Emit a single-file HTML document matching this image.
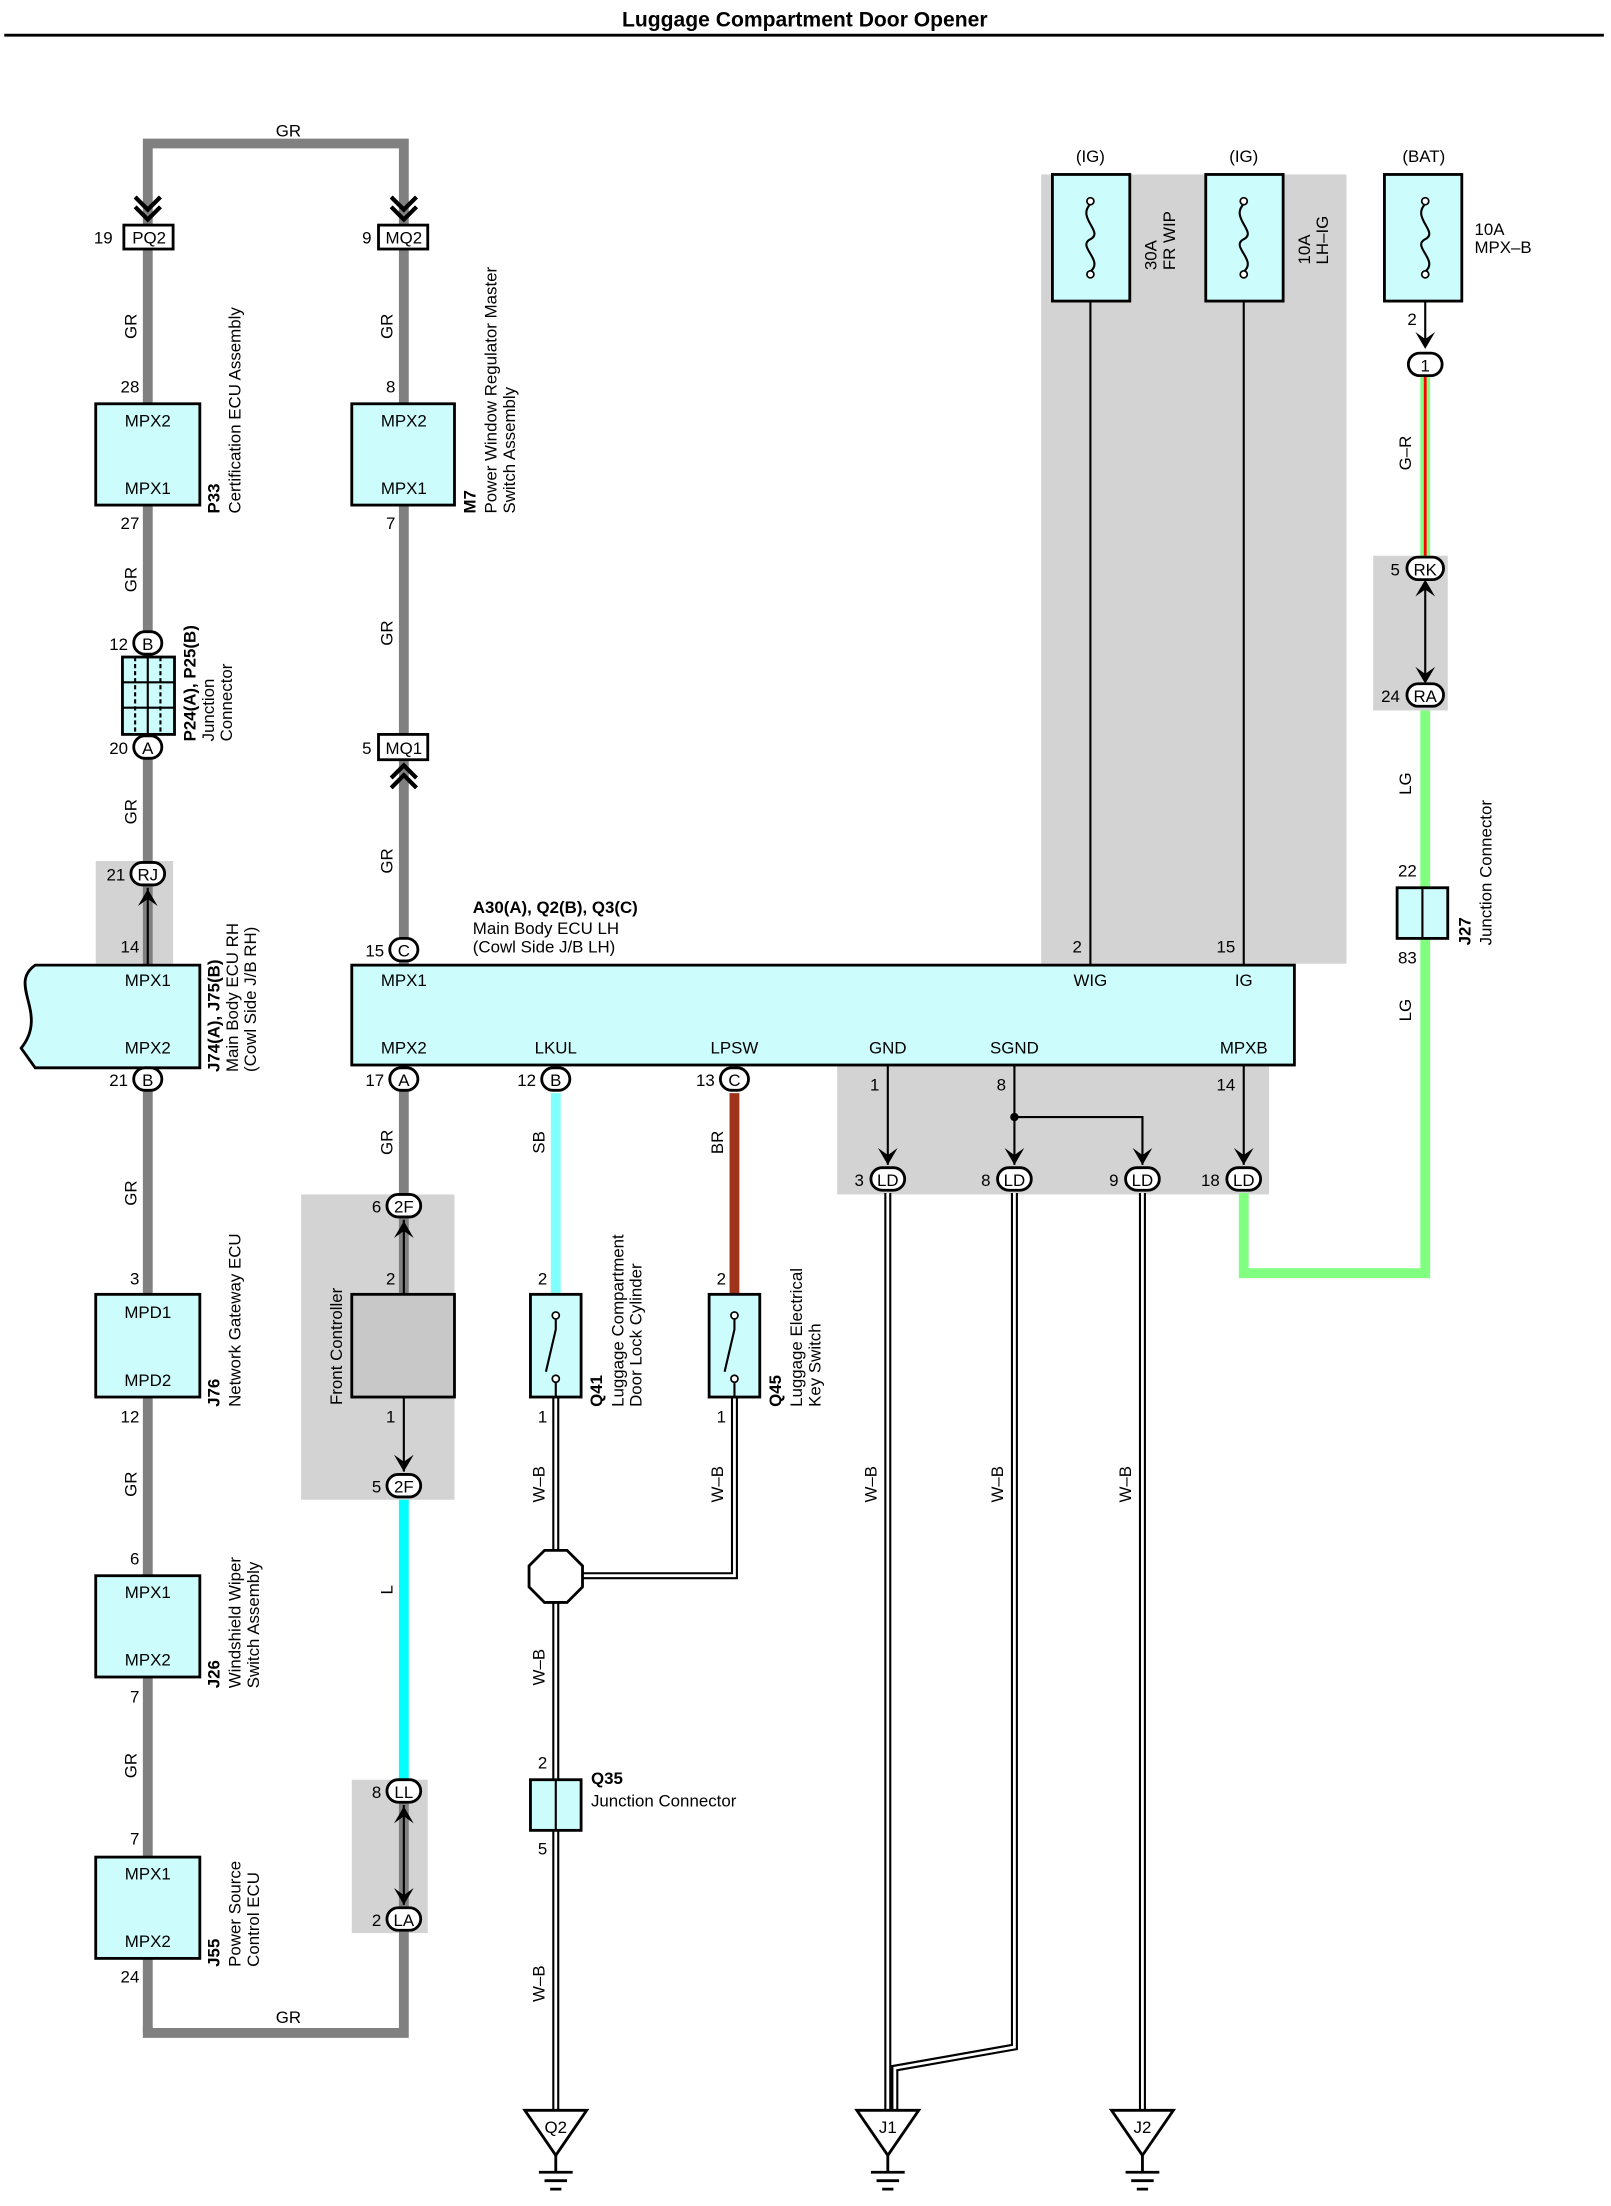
<!DOCTYPE html>
<html><head><meta charset="utf-8"><style>
html,body{margin:0;padding:0;background:#fff;}
svg{display:block;}
text{font-family:"Liberation Sans",sans-serif;font-size:12px;fill:#000;}
.b{font-weight:bold;}
</style></head><body>
<svg width="1611" height="2206" viewBox="0 0 1145 1568" xmlns="http://www.w3.org/2000/svg">
<text x="572" y="19" text-anchor="middle" class="b" style="font-size:15px">Luggage Compartment Door Opener</text>
<line x1="3" y1="25" x2="1140" y2="25" stroke="#000" stroke-width="2"/>

<g fill="#d3d3d3">
<rect x="740" y="124" width="217" height="561"/>
<rect x="976" y="395" width="53" height="110"/>
<rect x="68" y="612" width="55" height="73"/>
<rect x="214" y="849" width="109" height="217"/>
<rect x="250" y="1265" width="54" height="109"/>
<rect x="595" y="757" width="307" height="92"/>
</g>

<g stroke="#808080" stroke-width="7" fill="none">
<path d="M105,160 V102 H287 V160"/>
<line x1="105" y1="177" x2="105" y2="287"/>
<line x1="105" y1="359" x2="105" y2="686"/>
<line x1="105" y1="759" x2="105" y2="1445"/>
<line x1="287" y1="177" x2="287" y2="287"/>
<line x1="287" y1="359" x2="287" y2="686"/>
<line x1="287" y1="757" x2="287" y2="920"/>
<path d="M105,1440 V1445 H287 V1265"/>
</g>
<line x1="287" y1="1066" x2="287" y2="1265" stroke="#00ffff" stroke-width="7"/>
<line x1="395" y1="777" x2="395" y2="920" stroke="#80ffff" stroke-width="7"/>
<line x1="522" y1="777" x2="522" y2="920" stroke="#a0341a" stroke-width="7"/>
<path d="M884,848 V905 H1013 V505" stroke="#80ff80" stroke-width="7" fill="none"/>
<line x1="1013" y1="268" x2="1013" y2="395" stroke="#80ff80" stroke-width="7"/>
<line x1="1013" y1="268" x2="1013" y2="395" stroke="#ff0000" stroke-width="2"/>
<g fill="none">
<g stroke="#000" stroke-width="5">
<path d="M395,993 V1265 M395,1301 V1500 M522,993 V1120 H413 M631,848 V1500 M721,848 V1455 L636,1470 V1500 M812,848 V1500"/>
</g>
<g stroke="#fff" stroke-width="2">
<path d="M395,993 V1265 M395,1301 V1500 M522,993 V1120 H413 M631,848 V1500 M721,848 V1455 L636,1470 V1500 M812,848 V1500"/>
</g>
</g>
<g stroke="#000" stroke-width="1.5" fill="none">
<line x1="775" y1="170" x2="775" y2="686"/>
<line x1="884" y1="170" x2="884" y2="686"/>
<line x1="1013" y1="170" x2="1013" y2="244"/>
<line x1="1013" y1="414" x2="1013" y2="484"/>
<line x1="287" y1="867" x2="287" y2="920"/>
<line x1="287" y1="993" x2="287" y2="1046"/>
<line x1="287" y1="1283" x2="287" y2="1354"/>
<line x1="105" y1="631" x2="105" y2="686"/>
<line x1="631" y1="757" x2="631" y2="828"/>
<path d="M721,757 V828 M721,794 H812 V828"/>
<line x1="884" y1="757" x2="884" y2="828"/>
</g>
<circle cx="721" cy="794" r="3" fill="#000"/>
<g fill="#000">
<path d="M1006,236 L1013,248 L1020,236 L1013,241Z"/>
<path d="M1006,424 L1013,412 L1020,424 L1013,419Z"/>
<path d="M1006,474 L1013,486 L1020,474 L1013,479Z"/>
<path d="M98,644 L105,632 L112,644 L105,639Z"/>
<path d="M280,880 L287,868 L294,880 L287,875Z"/>
<path d="M280,1034 L287,1046 L294,1034 L287,1039Z"/>
<path d="M280,1296 L287,1284 L294,1296 L287,1291Z"/>
<path d="M280,1342 L287,1354 L294,1342 L287,1347Z"/>
<path d="M624,816 L631,828 L638,816 L631,821Z"/>
<path d="M714,816 L721,828 L728,816 L721,821Z"/>
<path d="M805,816 L812,828 L819,816 L812,821Z"/>
<path d="M877,816 L884,828 L891,816 L884,821Z"/>
</g>
<g stroke="#000" stroke-width="3" fill="none">
<path d="M96,140 L105,149 L114,140 M96,147 L105,156 L114,147"/>
<path d="M278,140 L287,149 L296,140 M278,147 L287,156 L296,147"/>
<path d="M278,553 L287,544 L296,553 M278,560 L287,551 L296,560"/>
</g>
<g fill="#fff" stroke="#000" stroke-width="2">
<rect x="88" y="160" width="35" height="17"/>
<rect x="269" y="160" width="35" height="17"/>
<rect x="269" y="522" width="35" height="18"/>
</g>
<text x="106" y="173" text-anchor="middle">PQ2</text><text x="80" y="173" text-anchor="end">19</text>
<text x="287" y="173" text-anchor="middle">MQ2</text><text x="264" y="173" text-anchor="end">9</text>
<text x="287" y="536" text-anchor="middle">MQ1</text><text x="264" y="536" text-anchor="end">5</text>

<g fill="#ccfcfc" stroke="#000" stroke-width="2">
<rect x="68" y="287" width="74" height="72"/>
<rect x="250" y="287" width="73" height="72"/>
<path d="M142,686 H25 C5,700 35,720 15,745 L25,759 H142 Z"/>
<rect x="68" y="920" width="74" height="73"/>
<rect x="68" y="1120" width="74" height="72"/>
<rect x="68" y="1320" width="74" height="72"/>
<rect x="250" y="686" width="670" height="71"/>
<rect x="87" y="467" width="37" height="55"/>
<rect x="377" y="920" width="36" height="73"/>
<rect x="504" y="920" width="36" height="73"/>
<rect x="377" y="1265" width="36" height="36"/>
<rect x="993" y="631" width="36" height="36"/>
<rect x="748" y="124" width="55" height="90"/>
<rect x="857" y="124" width="55" height="90"/>
<rect x="984" y="124" width="55" height="90"/>
</g>
<rect x="250" y="920" width="73" height="73" fill="#c8c8c8" stroke="#000" stroke-width="2"/>
<g stroke="#000" stroke-width="1.5" fill="none">
<path d="M105,467 V522 M87,485 H124 M87,503 H124" />
<path d="M96,467 V522 M114,467 V522" stroke-dasharray="3,2"/>
<line x1="395" y1="1265" x2="395" y2="1301"/>
<line x1="1011" y1="631" x2="1011" y2="667"/>
<path d="M775,145 C765,155 785,165 775,170 C765,175 785,185 775,193"/>
<path d="M884,145 C874,155 894,165 884,170 C874,175 894,185 884,193"/>
<path d="M1013,145 C1003,155 1023,165 1013,170 C1003,175 1023,185 1013,193"/>
<path d="M395,934 V945 L388,975 M395,978 V993"/>
<path d="M522,934 V945 L515,975 M522,978 V993"/>
</g>
<g fill="#fff" stroke="#000" stroke-width="1.2">
<circle cx="395" cy="935" r="2.5"/><circle cx="395" cy="980" r="2.5"/>
<circle cx="522" cy="935" r="2.5"/><circle cx="522" cy="980" r="2.5"/>
<circle cx="775" cy="143" r="2.5"/><circle cx="775" cy="195" r="2.5"/>
<circle cx="884" cy="143" r="2.5"/><circle cx="884" cy="195" r="2.5"/>
<circle cx="1013" cy="143" r="2.5"/><circle cx="1013" cy="195" r="2.5"/>
</g>
<polygon points="387,1102 403,1102 414,1113 414,1128 403,1139 387,1139 376,1128 376,1113" fill="#fff" stroke="#000" stroke-width="2"/>

<g fill="#fff" stroke="#000" stroke-width="2">
<rect x="95" y="449" width="20" height="16" rx="8"/>
<rect x="95" y="523" width="20" height="16" rx="8"/>
<rect x="93" y="613" width="24" height="16" rx="8"/>
<rect x="95" y="759" width="20" height="16" rx="8"/>
<rect x="277" y="667" width="20" height="16" rx="8"/>
<rect x="277" y="759" width="20" height="16" rx="8"/>
<rect x="385" y="759" width="20" height="16" rx="8"/>
<rect x="512" y="759" width="20" height="16" rx="8"/>
<rect x="275" y="849" width="24" height="16" rx="8"/>
<rect x="275" y="1048" width="24" height="16" rx="8"/>
<rect x="275" y="1265" width="24" height="16" rx="8"/>
<rect x="275" y="1356" width="24" height="16" rx="8"/>
<rect x="619" y="830" width="24" height="16" rx="8"/>
<rect x="709" y="830" width="24" height="16" rx="8"/>
<rect x="800" y="830" width="24" height="16" rx="8"/>
<rect x="872" y="830" width="24" height="16" rx="8"/>
<rect x="1001" y="251" width="24" height="16" rx="8"/>
<rect x="1000" y="396" width="26" height="16" rx="8"/>
<rect x="1000" y="486" width="26" height="16" rx="8"/>
</g>
<g text-anchor="middle">
<text x="105" y="462">B</text><text x="105" y="536">A</text><text x="105" y="626">RJ</text>
<text x="105" y="772">B</text><text x="287" y="680">C</text><text x="287" y="772">A</text>
<text x="395" y="772">B</text><text x="522" y="772">C</text>
<text x="287" y="862">2F</text><text x="287" y="1061">2F</text>
<text x="287" y="1278">LL</text><text x="287" y="1369">LA</text>
<text x="631" y="843">LD</text><text x="721" y="843">LD</text><text x="812" y="843">LD</text><text x="884" y="843">LD</text>
<text x="1013" y="264">1</text><text x="1013" y="409">RK</text><text x="1013" y="499">RA</text>
</g>
<g text-anchor="end">
<text x="91" y="462">12</text><text x="91" y="536">20</text><text x="89" y="626">21</text>
<text x="99" y="677">14</text><text x="91" y="772">21</text>
<text x="99" y="279">28</text><text x="99" y="376">27</text>
<text x="99" y="913">3</text><text x="99" y="1011">12</text>
<text x="99" y="1112">6</text><text x="99" y="1210">7</text>
<text x="99" y="1311">7</text><text x="99" y="1409">24</text>
<text x="281" y="279">8</text><text x="281" y="376">7</text>
<text x="273" y="680">15</text><text x="273" y="772">17</text>
<text x="271" y="862">6</text><text x="281" y="913">2</text><text x="281" y="1011">1</text>
<text x="271" y="1061">5</text><text x="271" y="1278">8</text><text x="271" y="1369">2</text>
<text x="381" y="772">12</text><text x="508" y="772">13</text>
<text x="389" y="913">2</text><text x="389" y="1011">1</text>
<text x="516" y="913">2</text><text x="516" y="1011">1</text>
<text x="389" y="1257">2</text><text x="389" y="1318">5</text>
<text x="625" y="775">1</text><text x="715" y="775">8</text><text x="878" y="775">14</text>
<text x="614" y="843">3</text><text x="704" y="843">8</text><text x="795" y="843">9</text><text x="867" y="843">18</text>
<text x="769" y="677">2</text><text x="878" y="677">15</text>
<text x="1007" y="231">2</text><text x="995" y="409">5</text><text x="995" y="499">24</text>
<text x="1007" y="623">22</text><text x="1007" y="685">83</text>
</g>
<g text-anchor="middle">
<text x="105" y="303">MPX2</text><text x="105" y="351">MPX1</text>
<text x="287" y="303">MPX2</text><text x="287" y="351">MPX1</text>
<text x="105" y="701">MPX1</text><text x="105" y="749">MPX2</text>
<text x="105" y="937">MPD1</text><text x="105" y="985">MPD2</text>
<text x="105" y="1136">MPX1</text><text x="105" y="1184">MPX2</text>
<text x="105" y="1336">MPX1</text><text x="105" y="1384">MPX2</text>
<text x="287" y="701">MPX1</text><text x="775" y="701">WIG</text><text x="884" y="701">IG</text>
<text x="287" y="749">MPX2</text><text x="395" y="749">LKUL</text><text x="522" y="749">LPSW</text>
<text x="631" y="749">GND</text><text x="721" y="749">SGND</text><text x="884" y="749">MPXB</text>
<text x="205" y="97">GR</text><text x="205" y="1438">GR</text>
<text x="775" y="115">(IG)</text><text x="884" y="115">(IG)</text><text x="1012" y="115">(BAT)</text>
</g>
<text x="336" y="649" class="b">A30(A), Q2(B), Q3(C)</text>
<text x="336" y="664">Main Body ECU LH</text>
<text x="336" y="677">(Cowl Side J/B LH)</text>
<text x="1048" y="167">10A</text><text x="1048" y="180">MPX–B</text>
<text x="420" y="1268" class="b">Q35</text><text x="420" y="1284">Junction Connector</text>

<g>
<g transform="translate(97,232) rotate(-90)"><text text-anchor="middle">GR</text></g>
<g transform="translate(97,412) rotate(-90)"><text text-anchor="middle">GR</text></g>
<g transform="translate(97,577) rotate(-90)"><text text-anchor="middle">GR</text></g>
<g transform="translate(97,848) rotate(-90)"><text text-anchor="middle">GR</text></g>
<g transform="translate(97,1055) rotate(-90)"><text text-anchor="middle">GR</text></g>
<g transform="translate(97,1255) rotate(-90)"><text text-anchor="middle">GR</text></g>
<g transform="translate(279,232) rotate(-90)"><text text-anchor="middle">GR</text></g>
<g transform="translate(279,450) rotate(-90)"><text text-anchor="middle">GR</text></g>
<g transform="translate(279,612) rotate(-90)"><text text-anchor="middle">GR</text></g>
<g transform="translate(279,812) rotate(-90)"><text text-anchor="middle">GR</text></g>
<g transform="translate(279,1130) rotate(-90)"><text text-anchor="middle">L</text></g>
<g transform="translate(387,812) rotate(-90)"><text text-anchor="middle">SB</text></g>
<g transform="translate(514,812) rotate(-90)"><text text-anchor="middle">BR</text></g>
<g transform="translate(387,1055) rotate(-90)"><text text-anchor="middle">W–B</text></g>
<g transform="translate(514,1055) rotate(-90)"><text text-anchor="middle">W–B</text></g>
<g transform="translate(387,1185) rotate(-90)"><text text-anchor="middle">W–B</text></g>
<g transform="translate(387,1410) rotate(-90)"><text text-anchor="middle">W–B</text></g>
<g transform="translate(623,1055) rotate(-90)"><text text-anchor="middle">W–B</text></g>
<g transform="translate(713,1055) rotate(-90)"><text text-anchor="middle">W–B</text></g>
<g transform="translate(804,1055) rotate(-90)"><text text-anchor="middle">W–B</text></g>
<g transform="translate(1003,322) rotate(-90)"><text text-anchor="middle">G–R</text></g>
<g transform="translate(1003,557) rotate(-90)"><text text-anchor="middle">LG</text></g>
<g transform="translate(1003,718) rotate(-90)"><text text-anchor="middle">LG</text></g>
<g transform="translate(243,957) rotate(-90)"><text text-anchor="middle">Front Controller</text></g>
<g transform="translate(156,365) rotate(-90)"><text class="b">P33</text><text y="15">Certification ECU Assembly</text></g>
<g transform="translate(338,365) rotate(-90)"><text class="b">M7</text><text y="15">Power Window Regulator Master</text><text y="28">Switch Assembly</text></g>
<g transform="translate(139,527) rotate(-90)"><text class="b">P24(A), P25(B)</text><text y="13">Junction</text><text y="26">Connector</text></g>
<g transform="translate(156,762) rotate(-90)"><text class="b">J74(A), J75(B)</text><text y="13">Main Body ECU RH</text><text y="26">(Cowl Side J/B RH)</text></g>
<g transform="translate(156,1000) rotate(-90)"><text class="b">J76</text><text y="15">Network Gateway ECU</text></g>
<g transform="translate(156,1200) rotate(-90)"><text class="b">J26</text><text y="15">Windshield Wiper</text><text y="28">Switch Assembly</text></g>
<g transform="translate(156,1398) rotate(-90)"><text class="b">J55</text><text y="15">Power Source</text><text y="28">Control ECU</text></g>
<g transform="translate(428,1000) rotate(-90)"><text class="b">Q41</text><text y="15">Luggage Compartment</text><text y="28">Door Lock Cylinder</text></g>
<g transform="translate(555,1000) rotate(-90)"><text class="b">Q45</text><text y="15">Luggage Electrical</text><text y="28">Key Switch</text></g>
<g transform="translate(1045,672) rotate(-90)"><text class="b">J27</text><text y="15">Junction Connector</text></g>
<g transform="translate(822,192) rotate(-90)"><text>30A</text><text y="13">FR WIP</text></g>
<g transform="translate(931,188) rotate(-90)"><text>10A</text><text y="13">LH–IG</text></g>
</g>

<g fill="#fff" stroke="#000" stroke-width="2">
<polygon points="373,1500 417,1500 395,1532"/>
<polygon points="609,1500 653,1500 631,1532"/>
<polygon points="790,1500 834,1500 812,1532"/>
</g>
<g stroke="#000" stroke-width="2">
<path d="M395,1532 V1543 M383,1544 H407 M387,1550 H403 M391,1556 H399"/>
<path d="M631,1532 V1543 M619,1544 H643 M623,1550 H639 M627,1556 H635"/>
<path d="M812,1532 V1543 M800,1544 H824 M804,1550 H820 M808,1556 H816"/>
</g>
<g text-anchor="middle"><text x="395" y="1516">Q2</text><text x="631" y="1516">J1</text><text x="812" y="1516">J2</text></g>
</svg>
</body></html>
